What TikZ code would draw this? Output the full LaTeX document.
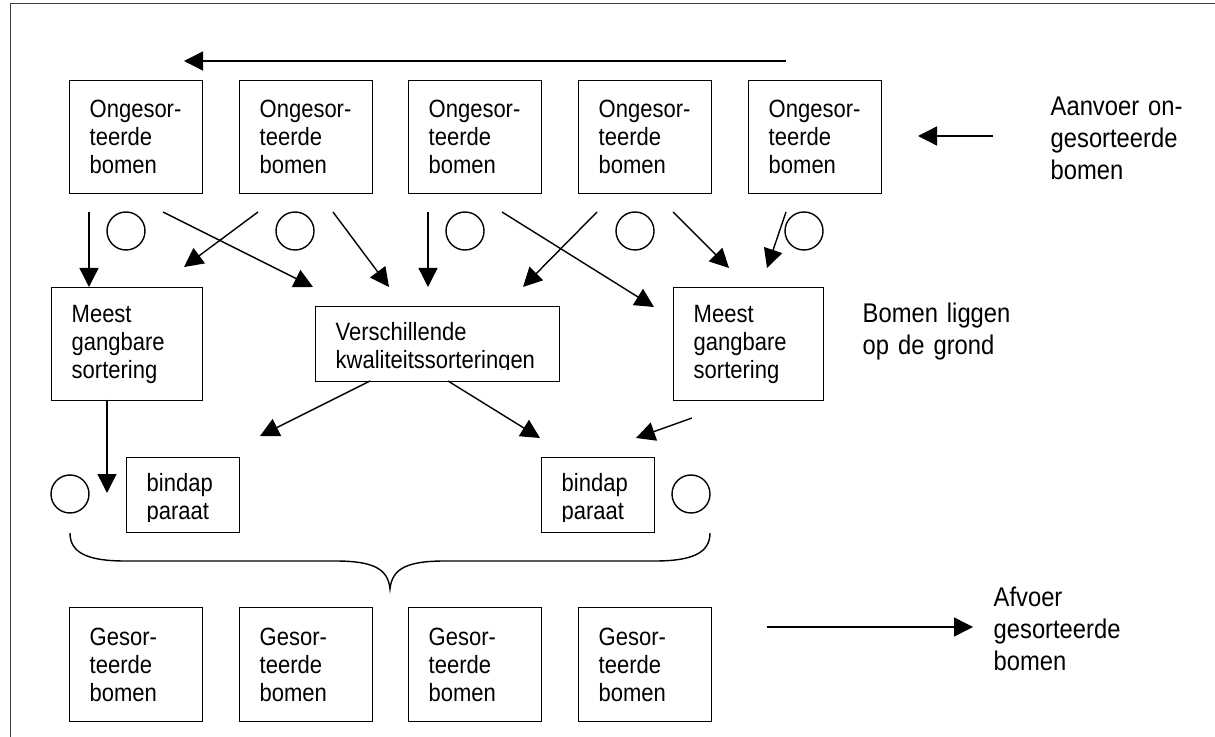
\documentclass[tikz,border=0pt]{standalone}
\usepackage{fontspec}
\setmainfont[FakeStretch=0.88]{Liberation Sans}
\usetikzlibrary{arrows.meta}
\hyphenpenalty=10000
\exhyphenpenalty=10000
\newcommand{\hi}{\rule{0pt}{13pt}}
\begin{document}
\begin{tikzpicture}[x=0.5pt,y=-0.5pt,line width=0.7pt,
  box/.style={draw,anchor=north west,inner xsep=10pt,inner ysep=0pt,align=left,
    font=\fontsize{12.5}{14}\selectfont},
  tallbox/.style={box,text width=46.5pt,minimum height=56.5pt},
  flatbox/.style={box,minimum height=37.5pt},
  lbl/.style={anchor=base west,inner sep=0pt,align=left,text width=90pt,
    font=\fontsize{13.5}{16}\selectfont},
  ring/.style={draw,circle,minimum size=19pt,inner sep=0pt},
  arr/.style={-{Triangle[length=9.5pt,width=9.5pt]}}]
\useasboundingbox (0,0) rectangle (1215,737);
% frame
\draw[line width=0.5pt,black!75] (10,737) -- (10,4) -- (1215,4);
% top boxes
\node[tallbox] (t1) at (69,80)  {Ongesor-\\teerde\\bomen};
\node[tallbox] (t2) at (239,80) {Ongesor-\\teerde\\bomen};
\node[tallbox] (t3) at (408,80) {Ongesor-\\teerde\\bomen};
\node[tallbox] (t4) at (578,80) {Ongesor-\\teerde\\bomen};
\node[tallbox] (t5) at (748,80) {Ongesor-\\teerde\\bomen};
% middle boxes
\node[box,text width=55.5pt,minimum height=56.5pt] (m1) at (51,287) {Meest\\gangbare\\sortering};
\node[flatbox,text width=102pt] (vk) at (315,306) {\hi Verschillende\\kwaliteitssorteringen};
\node[box,text width=55pt,minimum height=56.5pt] (m2) at (673,287) {Meest\\gangbare\\sortering};
% bindap boxes
\node[flatbox,text width=36.5pt] (b1) at (126,457) {\hi bindap\\paraat};
\node[flatbox,text width=36.5pt] (b2) at (541,457) {\hi bindap\\paraat};
% descenders cut off at the bottom of the low boxes, as in the original
\fill[white] (316.5,370) rectangle (557.5,380);
\fill[white] (127.5,522) rectangle (238,531);
\fill[white] (542.5,522) rectangle (653,531);
% bottom boxes
\node[tallbox,minimum height=57pt] (g1) at (69,607)  {Gesor-\\teerde\\bomen};
\node[tallbox,minimum height=57pt] (g2) at (239,607) {Gesor-\\teerde\\bomen};
\node[tallbox,minimum height=57pt] (g3) at (408,607) {Gesor-\\teerde\\bomen};
\node[tallbox,minimum height=57pt] (g4) at (578,607) {Gesor-\\teerde\\bomen};
% labels
\node[lbl] (aanvoer) at (1050,116) {Aanvoer on-\\gesorteerde\\bomen};
\node[lbl] (liggen) at (862,323) {Bomen liggen\\op de grond};
\node[lbl] (afvoer) at (993,606) {Afvoer\\gesorteerde\\bomen};
% circles
\node[ring] (c1) at (126,231) {};
\node[ring] (c2) at (295,231) {};
\node[ring] (c3) at (465,231) {};
\node[ring] (c4) at (635,231) {};
\node[ring] (c5) at (804,231) {};
\node[ring] (c6) at (70,494) {};
\node[ring] (c7) at (691,494) {};
% brace
\draw (70,533) .. controls (70,553) and (88,561) .. (125,561) -- (335,561)
  .. controls (372,561) and (388,568) .. (390,589)
  .. controls (392,568) and (408,561) .. (445,561) -- (655,561)
  .. controls (692,561) and (710,553) .. (710,533);
% arrow end points
\coordinate (topS) at (786,61);   \coordinate (topE) at (184,61);
\coordinate (inS) at (993,136);   \coordinate (inE) at (918,136);
\coordinate (outS) at (767,627);  \coordinate (outE) at (973,627);
\coordinate (p1s) at (89,212);   \coordinate (p1e) at (89,287);
\coordinate (p2s) at (163,212);  \coordinate (p2e) at (313,287);
\coordinate (p3s) at (258,212);  \coordinate (p3e) at (184,267);
\coordinate (p4s) at (333,212);  \coordinate (p4e) at (389,287);
\coordinate (p5s) at (428,212);  \coordinate (p5e) at (428,287);
\coordinate (p6s) at (502,212);  \coordinate (p6e) at (654,307);
\coordinate (p7s) at (597,212);  \coordinate (p7e) at (523,287);
\coordinate (p8s) at (673,212);  \coordinate (p8e) at (729,268);
\coordinate (p9s) at (786,212);  \coordinate (p9e) at (767,268);
\coordinate (q1s) at (107,400);  \coordinate (q1e) at (107,493);
\coordinate (q2s) at (370,381);  \coordinate (q2e) at (260,436);
\coordinate (q3s) at (448,381);  \coordinate (q3e) at (540,438);
\coordinate (q4s) at (692,418);  \coordinate (q4e) at (636,438);
% arrows
\draw[arr] (topS) -- (topE);
\draw[arr] (inS) -- (inE);
\draw[arr] (outS) -- (outE);
\foreach \n in {p1,p2,p3,p4,p5,p6,p7,p8,p9,q1,q2,q3,q4}
  \draw[arr] (\n s) -- (\n e);
\end{tikzpicture}
\end{document}
